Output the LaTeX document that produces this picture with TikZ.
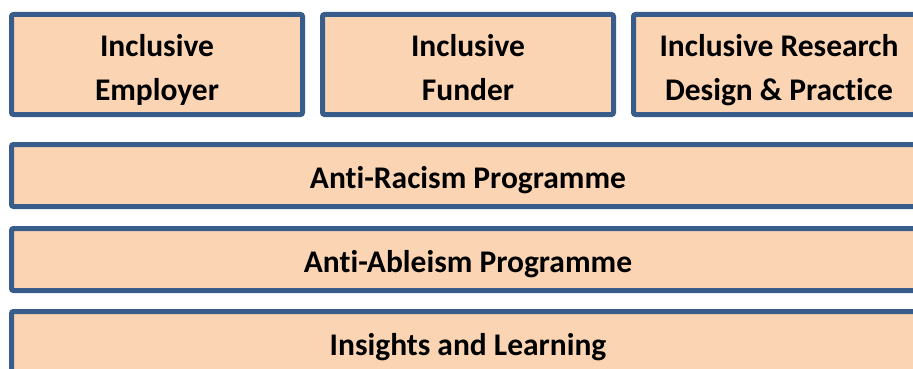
\documentclass[tikz,border=0pt]{standalone}
\usepackage{fontspec}
\setmainfont{Carlito}[Ligatures=NoCommon]
\usetikzlibrary{positioning}
\definecolor{peach}{HTML}{FBD4B4}
\definecolor{edgeblue}{HTML}{385D8A}
% keeps both lines of a pillar on the same baselines
\newcommand{\linestrut}{\rule[-8pt]{0pt}{43pt}}

\begin{document}
\begin{tikzpicture}[
    x=1pt, y=-1pt,
    font=\fontsize{31.5}{44}\selectfont\bfseries,
    node distance=20pt,
    pillar/.style={draw=edgeblue, fill=peach, line width=5pt, rounded corners=2pt, outer sep=0pt,
        minimum width=291pt, minimum height=100pt, align=center, inner sep=0pt},
    layer/.style={draw=edgeblue, fill=peach, line width=5pt, rounded corners=2pt, outer sep=0pt,
        minimum width=913pt, minimum height=62pt, inner sep=0pt, text height=25pt, text depth=0pt}
]
\useasboundingbox (0,0) rectangle (913,369);
\clip (0,0) rectangle (913,369);

% top row
\node[pillar] (emp) at (157,64.5) {\linestrut Inclusive\\\linestrut Employer};
\node[pillar, right=20pt of emp] (fund) {\linestrut Inclusive\\\linestrut Funder};
\node[pillar, right=20pt of fund] (res) {\linestrut Inclusive Research\\\linestrut Design \& Practice};

% programme layers
\node[layer, below right=30pt and 0pt of emp.south west] (race) {Anti-Racism Programme};
\node[layer, below right=22pt and 0pt of race.south west] (able) {Anti-Ableism Programme};
\node[layer, below right=21pt and 0pt of able.south west] (learn) {Insights and Learning};
\end{tikzpicture}
\end{document}
